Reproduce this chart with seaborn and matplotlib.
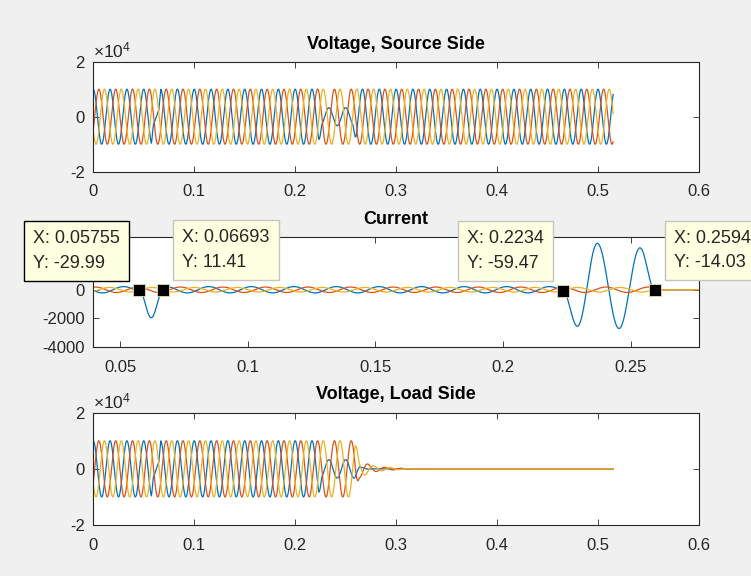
import numpy as np
import pandas as pd
import seaborn as sns
import matplotlib.pyplot as plt
from matplotlib.ticker import FuncFormatter

# ---- values ----
phases = ["A", "B", "C"]
colors = ["#0072BD", "#D95319", "#EDB120"]
phase_deg = [0, -120, 120]
freq = 60.0          # ~6 cycles per 0.1 s
t_end = 0.515        # traces stop here
v_peak = 1.0e4

# amplitude envelopes (fraction of v_peak), breakpoints
src_a_t = [0, 0.0576, 0.0596, 0.0649, 0.0669, 0.2234, 0.2264, 0.2574, 0.2604, 0.515]
src_a_v = [1, 1, 0.3, 0.3, 1, 1, 0.33, 0.33, 1, 1]
load_a_t = [0, 0.0576, 0.0596, 0.0649, 0.0669, 0.2234, 0.2264, 0.2594, 0.266, 0.275]
load_a_v = [1, 1, 0.3, 0.3, 1, 1, 0.33, 0.33, 0.05, 0]
load_bc_t = [0, 0.2594, 0.2634, 0.275, 0.29, 0.31, 0.32]
load_bc_v = [1, 1, 0.32, 0.12, 0.05, 0.015, 0]

# current: small ripple on all phases, plus phase A transients
i_ripple = [220, 190, 160]
dip_t = [0.05755, 0.0622, 0.06693]
dip_i = [-29.99, -1950, 11.41]
fault_t = [0.2234, 0.2291, 0.2369, 0.2454, 0.2536, 0.2594]
fault_i = [-59.47, -2540, 3230, -2700, 2920, -14.03]

# data tips
tip_x = [0.05755, 0.06693, 0.2234, 0.2594]
tip_y = [-29.99, 11.41, -59.47, -14.03]
tip_side = ["left", "right", "left", "right"]
tip_edge = ["black", "#c4c4c4", "#c4c4c4", "#c4c4c4"]

titles = ["Voltage, Source Side", "Current", "Voltage, Load Side"]


def through_extrema(t, tx, vx):
    # half-cosine strokes between successive extrema
    out = np.full_like(t, np.nan)
    for t0, t1, v0, v1 in zip(tx[:-1], tx[1:], vx[:-1], vx[1:]):
        m = (t >= t0) & (t <= t1)
        s = (t[m] - t0) / (t1 - t0)
        out[m] = v0 + (v1 - v0) * (1 - np.cos(np.pi * s)) / 2
    return out


t = np.arange(0, t_end + 5e-5, 1e-4)
w = 2 * np.pi * freq
base = [np.cos(w * t + np.radians(p)) for p in phase_deg]

src = [v_peak * base[0] * np.interp(t, src_a_t, src_a_v), v_peak * base[1], v_peak * base[2]]
load = [v_peak * base[0] * np.interp(t, load_a_t, load_a_v),
        v_peak * base[1] * np.interp(t, load_bc_t, load_bc_v),
        v_peak * base[2] * np.interp(t, load_bc_t, load_bc_v)]

live = (t <= tip_x[-1]).astype(float)
cur = [a * np.cos(w * t + np.radians(p - 30)) * live for a, p in zip(i_ripple, phase_deg)]
for tx, vx in [(dip_t, dip_i), (fault_t, fault_i)]:
    seg = through_extrema(t, tx, vx)
    cur[0] = np.where(np.isnan(seg), cur[0], seg)


def long_frame(ys):
    return pd.concat([pd.DataFrame({"t": t, "v": y, "phase": p}) for p, y in zip(phases, ys)])


# ---- figure ----
plt.rcParams["font.family"] = ["Liberation Sans", "DejaVu Sans"]
plt.rcParams["mathtext.fontset"] = "custom"
plt.rcParams["mathtext.rm"] = "Liberation Sans"
plt.rcParams["axes.unicode_minus"] = False

fig = plt.figure(figsize=(7.51, 5.76), dpi=100, facecolor="#f0f0f0")
ax_src = fig.add_axes([0.1242, 0.7019, 0.8065, 0.1910])
ax_cur = fig.add_axes([0.1242, 0.3972, 0.8065, 0.1918])
ax_load = fig.add_axes([0.1242, 0.0885, 0.8065, 0.1950])
axes = [ax_src, ax_cur, ax_load]

for ax, ys in zip(axes, [src, cur, load]):
    sns.lineplot(data=long_frame(ys), x="t", y="v", hue="phase", palette=colors,
                 estimator=None, sort=False, legend=False, linewidth=0.9, ax=ax)

for ax, title in zip(axes, titles):
    ax.set_facecolor("white")
    ax.set(xlabel="", ylabel="")
    for s in ax.spines.values():
        s.set_color("#262626")
        s.set_linewidth(0.8)
    ax.tick_params(direction="in", top=True, right=True, length=4, width=0.6,
                   colors="#262626", labelsize=12)
    ax.tick_params(axis="x", pad=9)
    ax.tick_params(axis="y", pad=6)
    ax.xaxis.set_major_formatter(FuncFormatter(lambda v, _: f"{v:g}"))
    ax.set_title(title, fontsize=13, fontweight="bold", y=1.158, va="center", pad=0)

for ax in [ax_src, ax_load]:
    ax.set_xlim(0, 0.6)
    ax.set_ylim(-2e4, 2e4)
    ax.set_xticks(np.arange(0, 0.61, 0.1))
    ax.set_yticks([-2e4, 0, 2e4])
    fmt = FuncFormatter(lambda v, _: f"{v / 1e4:g}")
    fmt.set_offset_string(r"$\times\mathdefault{10^{4}}$")
    ax.yaxis.set_major_formatter(fmt)
    ax.yaxis.get_offset_text().set_fontsize(12.5)
    ax.yaxis.get_offset_text().set_color("#262626")

ax_cur.set_xlim(0.0395, 0.2767)
ax_cur.set_ylim(-4000, 3690)
ax_cur.set_xticks([0.05, 0.1, 0.15, 0.2, 0.25])
ax_cur.set_yticks([-4000, -2000, 0])   # the 2000 tick sits under the first data tip

# data tips
sns.scatterplot(x=tip_x, y=tip_y, marker="s", s=85, color="black",
                edgecolor="#e8e0a0", linewidth=0.6, zorder=5, ax=ax_cur)
for x, y, side, ec in zip(tip_x, tip_y, tip_side, tip_edge):
    dx = -19 if side == "left" else 19
    ax_cur.annotate(f"X: {x:.4g}\nY: {y:.4g}", xy=(x, y), xytext=(dx, 18.5),
                    textcoords="offset pixels", ha="right" if side == "left" else "left",
                    va="bottom", multialignment="left", fontsize=13, color="#262626",
                    linespacing=1.6, annotation_clip=False, zorder=6,
                    bbox=dict(boxstyle="square,pad=0.5", fc="#ffffe1", ec=ec, lw=1))

fig.savefig("out.png", dpi=100, facecolor=fig.get_facecolor())
